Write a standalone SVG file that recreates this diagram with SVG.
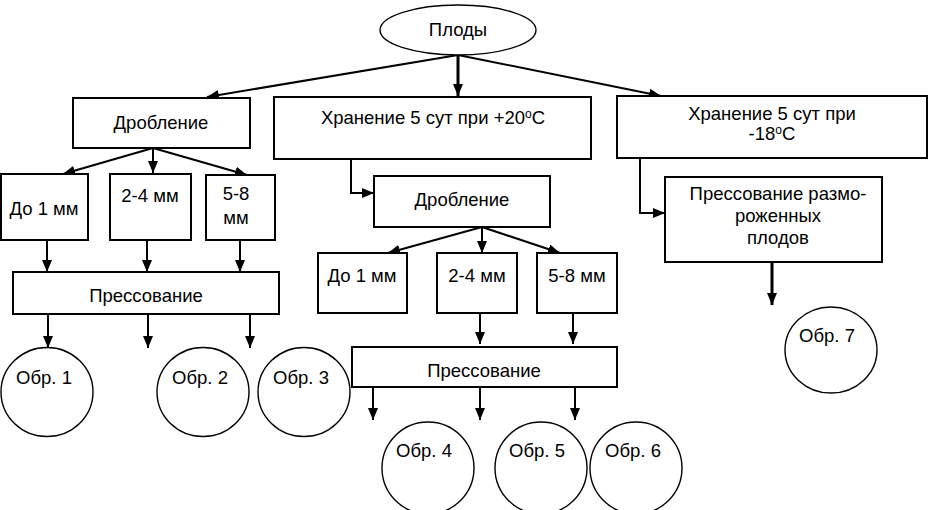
<svg xmlns="http://www.w3.org/2000/svg" width="928" height="510" viewBox="0 0 928 510">
<defs>
<marker id="ah" viewBox="0 0 12 10" refX="12" refY="5" markerWidth="12" markerHeight="10" orient="auto" markerUnits="userSpaceOnUse"><path d="M0,0 L12,5 L0,10 z" fill="#000"/></marker>
</defs>
<style>
.box{fill:#fff;stroke:#000;stroke-width:2}
.circ{fill:#fff;stroke:#000;stroke-width:1.4}
.t{font-family:"Liberation Sans",Arial,sans-serif;font-size:18.5px;fill:#000;text-anchor:middle}
.sup{font-size:12px}
.c{fill:none;stroke:#000;stroke-width:2;marker-end:url(#ah)}
.cb{stroke-width:3}
</style>
<rect width="928" height="510" fill="#fff"/>
<g id="connectors">
<path class="c cb" d="M458,55 L458,96"/>
<path class="c" d="M458,55 L207,97"/>
<path class="c" d="M458,55 L661,96"/>
<path class="c" d="M153,148 L63,174"/>
<path class="c" d="M153,148 L153,173"/>
<path class="c" d="M153,148 L247,175"/>
<path class="c" d="M47,240 L47,272"/>
<path class="c" d="M147,240 L147,272"/>
<path class="c" d="M240,240 L240,272"/>
<path class="c" d="M48,314 L48,348"/>
<path class="c" d="M148,314 L148,348"/>
<path class="c" d="M250,314 L250,348"/>
<path class="c" d="M351,159 L351,193 L374,193"/>
<path class="c" d="M482,227 L388,253"/>
<path class="c" d="M482,227 L482,253"/>
<path class="c" d="M482,227 L560,253"/>
<path class="c" d="M480,313 L480,344"/>
<path class="c" d="M573,313 L573,344"/>
<path class="c" d="M373,387 L373,420"/>
<path class="c" d="M480,387 L480,420"/>
<path class="c" d="M575,387 L575,420"/>
<path class="c" d="M640,158 L640,213 L665,213"/>
<path class="c cb" d="M772,262 L772,305"/>
</g>
<g id="plody"><ellipse class="circ" cx="458" cy="30" rx="78" ry="25"/><text class="t" x="458" y="36">Плоды</text></g>
<g id="drob1"><rect class="box" x="73" y="98" width="177" height="50"/><text class="t" x="161" y="129">Дробление</text></g>
<g id="hran20"><rect class="box" x="274" y="97" width="317" height="62"/><text class="t" x="433" y="124">Хранение 5 сут при +20<tspan class="sup" dy="-6">o</tspan><tspan dy="6">C</tspan></text></g>
<g id="hran18"><rect class="box" x="617" y="96" width="310" height="62"/><text class="t" x="772" y="120">Хранение 5 сут при</text><text class="t" x="772" y="140">-18<tspan class="sup" dy="-6">o</tspan><tspan dy="6">C</tspan></text></g>
<g id="l1"><rect class="box" x="1" y="174" width="87" height="66"/><text class="t" x="44" y="215">До 1 мм</text></g>
<g id="l2"><rect class="box" x="110" y="174" width="81" height="66"/><text class="t" x="150" y="202">2-4 мм</text></g>
<g id="l3"><rect class="box" x="206" y="175" width="69" height="65"/><text class="t" x="236" y="200">5-8</text><text class="t" x="236" y="224">мм</text></g>
<g id="press1"><rect class="box" x="13" y="272" width="266" height="42"/><text class="t" x="146" y="302">Прессование</text></g>
<g id="o1"><ellipse class="circ" cx="47" cy="392" rx="46" ry="44.5"/><text class="t" x="44" y="384">Обр. 1</text></g>
<g id="o2"><ellipse class="circ" cx="203" cy="392" rx="46" ry="44.5"/><text class="t" x="200" y="384">Обр. 2</text></g>
<g id="o3"><ellipse class="circ" cx="304" cy="392" rx="46" ry="44.5"/><text class="t" x="301" y="384">Обр. 3</text></g>
<g id="drob2"><rect class="box" x="374" y="176" width="176" height="51"/><text class="t" x="462" y="206">Дробление</text></g>
<g id="m1"><rect class="box" x="318" y="253" width="89" height="60"/><text class="t" x="362" y="282">До 1 мм</text></g>
<g id="m2"><rect class="box" x="437" y="253" width="80" height="60"/><text class="t" x="477" y="282">2-4 мм</text></g>
<g id="m3"><rect class="box" x="537" y="253" width="80" height="60"/><text class="t" x="577" y="282">5-8 мм</text></g>
<g id="press2"><rect class="box" x="352" y="347" width="265" height="40"/><text class="t" x="484" y="377">Прессование</text></g>
<g id="o4"><ellipse class="circ" cx="428" cy="468" rx="46" ry="46"/><text class="t" x="424" y="457">Обр. 4</text></g>
<g id="o5"><ellipse class="circ" cx="541" cy="468" rx="46" ry="46"/><text class="t" x="537" y="457">Обр. 5</text></g>
<g id="o6"><ellipse class="circ" cx="636" cy="468" rx="46" ry="46"/><text class="t" x="633" y="457">Обр. 6</text></g>
<g id="press3"><rect class="box" x="665" y="177" width="217" height="85"/><text class="t" x="778" y="200">Прессование размо-</text><text class="t" x="778" y="222">роженных</text><text class="t" x="778" y="244">плодов</text></g>
<g id="o7"><ellipse class="circ" cx="831" cy="350" rx="46" ry="43"/><text class="t" x="827" y="342">Обр. 7</text></g>
</svg>
